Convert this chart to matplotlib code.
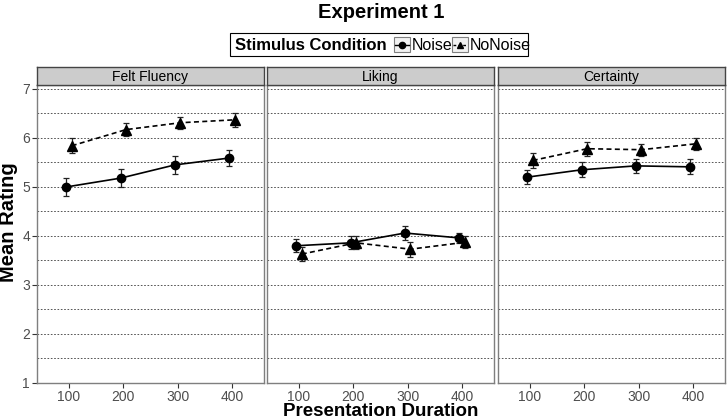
import numpy as np
import matplotlib.pyplot as plt
from matplotlib.patches import Rectangle

plt.rcParams['font.family'] = ['Liberation Sans', 'DejaVu Sans']

durations = [100, 200, 300, 400]
panels = ["Felt Fluency", "Liking", "Certainty"]

noise_mean = [[5.00, 5.18, 5.45, 5.59],
              [3.80, 3.86, 4.06, 3.96],
              [5.20, 5.35, 5.43, 5.41]]
noise_err = [[0.18, 0.18, 0.19, 0.17],
             [0.13, 0.13, 0.14, 0.11],
             [0.15, 0.15, 0.15, 0.15]]
nonoise_mean = [[5.84, 6.17, 6.31, 6.37],
                [3.63, 3.86, 3.73, 3.87],
                [5.54, 5.78, 5.76, 5.88]]
nonoise_err = [[0.15, 0.14, 0.12, 0.14],
               [0.14, 0.13, 0.15, 0.12],
               [0.16, 0.145, 0.12, 0.125]]

W, H = 727, 420
fig = plt.figure(figsize=(W / 100, H / 100), dpi=100)

lefts = [37, 267, 498]
pw = 227
bottom, top = 383, 85
dodge = 5
x = np.array(durations)

for i, name in enumerate(panels):
    ax = fig.add_axes([lefts[i] / W, 1 - bottom / H, pw / W, (bottom - top) / H])
    for y in np.arange(1.5, 7.01, 0.5):
        ax.axhline(y, color='#3a3a3a', lw=0.6, ls=(0, (2, 2)), zorder=0)
    ax.errorbar(x - dodge, noise_mean[i], yerr=noise_err[i], fmt='o-', color='black',
                ms=6, lw=1.2, elinewidth=0.9, ecolor='#222222', capsize=2.5, capthick=0.9)
    ax.errorbar(x + dodge, nonoise_mean[i], yerr=nonoise_err[i], fmt='^', ls=(0, (3, 2)),
                color='black', ms=6.5, lw=1.2, elinewidth=0.9, ecolor='#222222',
                capsize=2.5, capthick=0.9)
    ax.set_xlim(41, 459)
    ax.set_ylim(1, 7.08)
    ax.set_xticks(durations)
    ax.tick_params(axis='both', labelsize=10, colors='#333333', length=3.5, width=0.8,
                   pad=1.5, labelcolor='#4d4d4d')
    if i == 0:
        ax.set_yticks(range(1, 8))
    else:
        ax.set_yticks([])
    for s in ax.spines.values():
        s.set_color('#7f7f7f')
        s.set_linewidth(1.0)
    # strip
    sax = fig.add_axes([lefts[i] / W, 1 - top / H, pw / W, 18 / H])
    sax.set_xticks([])
    sax.set_yticks([])
    sax.set_facecolor('#cccccc')
    for s in sax.spines.values():
        s.set_color('#444444')
        s.set_linewidth(1.0)
    sax.text(0.5, 0.45, name, ha='center', va='center', fontsize=10, transform=sax.transAxes)

fig.text(381 / W, 1 - 12 / H, "Experiment 1", ha='center', va='center',
         fontsize=14.5, fontweight='bold')
fig.text(381 / W, 1 - 412 / H, "Presentation Duration", ha='center', va='center',
         fontsize=13.5, fontweight='bold')
fig.text(9 / W, 1 - 222 / H, "Mean Rating", ha='center', va='center', rotation=90,
         fontsize=14.5, fontweight='bold')

# legend drawn in pixel space
lax = fig.add_axes([0, 0, 1, 1], zorder=5)
lax.set_xlim(0, W)
lax.set_ylim(H, 0)
lax.axis('off')
lax.add_patch(Rectangle((230, 33), 298, 23, fill=False, ec='black', lw=0.8))
lax.text(235, 45, "Stimulus Condition", fontsize=12, fontweight='bold', va='center', ha='left')
keys = [(394, 'o', '-', "Noise"), (452, '^', (0, (2, 1.5)), "NoNoise")]
for kx, mk, ls, lab in keys:
    lax.add_patch(Rectangle((kx, 37), 16, 15, fc='#f2f2f2', ec='#7f7f7f', lw=0.8))
    lax.plot([kx + 1, kx + 15], [44.5, 44.5], color='black', lw=1.0, ls=ls)
    lax.plot([kx + 8], [44.5], marker=mk, color='black', ms=4.5)
    lax.text(kx + 17.5, 45, lab, fontsize=11.5, va='center', ha='left')

fig.savefig("out.png", dpi=100)
